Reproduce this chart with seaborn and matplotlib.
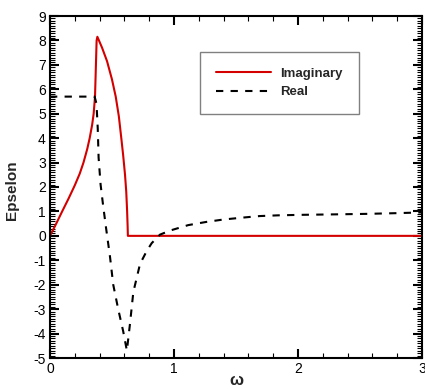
import matplotlib
matplotlib.use("Agg")
import matplotlib.pyplot as plt
from matplotlib.ticker import MultipleLocator
import seaborn as sns
import pandas as pd

# ---- data ----
imag_x = [0.0, 0.05, 0.10, 0.15, 0.20, 0.24, 0.27, 0.30, 0.32, 0.34, 0.352, 0.363,
          0.376, 0.382, 0.42, 0.46, 0.50, 0.53, 0.555, 0.575, 0.59, 0.605, 0.615, 0.622,
          0.626, 0.628, 1.0, 2.0, 3.0]
imag_y = [0.0, 0.5, 1.02, 1.53, 2.07, 2.55, 3.0, 3.55, 4.0, 4.55, 5.0, 5.7,
          8.0, 8.15, 7.7, 7.15, 6.4, 5.7, 4.9, 4.0, 3.3, 2.5, 1.8, 1.0,
          0.4, 0.0, 0.0, 0.0, 0.0]

real_x = [0.0, 0.36, 0.375, 0.385, 0.392, 0.408, 0.427, 0.45, 0.484, 0.51, 0.55, 0.59,
          0.62, 0.645, 0.672, 0.726, 0.78, 0.82, 0.887, 0.97, 1.115, 1.26, 1.40, 1.56,
          1.69, 1.84, 2.02, 2.3, 2.55, 2.8, 3.0]
real_y = [5.7, 5.7, 5.4, 4.4, 3.2, 2.1, 1.3, 0.4, -0.86, -2.0, -3.0, -3.9,
          -4.7, -3.6, -2.3, -1.15, -0.62, -0.3, 0.05, 0.22, 0.44, 0.57, 0.67, 0.75,
          0.81, 0.84, 0.86, 0.88, 0.90, 0.93, 0.96]

series_names = ["Imaginary", "Real"]
x_ticks = [0, 1, 2, 3]
y_ticks = list(range(-5, 10))

sns.set_style("ticks")
plt.rcParams["font.family"] = ["Liberation Sans", "DejaVu Sans"]
plt.rcParams["axes.unicode_minus"] = False

fig = plt.figure(figsize=(4.25, 3.89), dpi=100)
ax = fig.add_axes([50 / 425, 1 - 358 / 389, 372 / 425, 342 / 389])

df_i = pd.DataFrame({"x": imag_x, "y": imag_y})
df_r = pd.DataFrame({"x": real_x, "y": real_y})

sns.lineplot(data=df_i, x="x", y="y", ax=ax, color="#d40000", lw=1.5,
             sort=False, estimator=None, label=series_names[0])
sns.lineplot(data=df_r, x="x", y="y", ax=ax, color="black", lw=1.5,
             sort=False, estimator=None, label=series_names[1])
ax.lines[1].set_dashes((3.5, 3.5))

ax.set_xlim(0, 3)
ax.set_ylim(-5, 9)
ax.set_xticks(x_ticks)
ax.set_yticks(y_ticks)
ax.xaxis.set_minor_locator(MultipleLocator(0.2))
ax.yaxis.set_minor_locator(MultipleLocator(0.1))
ax.tick_params(which="both", direction="in", top=True, right=True,
               labelsize=10, colors="black", pad=3)
ax.tick_params(which="major", length=6.5, width=1.5)
ax.tick_params(which="minor", length=3.5, width=0.8)
for s in ax.spines.values():
    s.set_linewidth(1.5)
    s.set_color("black")

ax.set_xlabel("")
ax.set_ylabel("Epselon", fontsize=11, fontweight="bold")
ax.yaxis.set_label_coords(-0.083, 0.49)
fig.text(236 / 425, 4 / 389, "\u03c9", fontsize=12, fontweight="bold",
         ha="center", va="baseline")

leg = ax.legend(loc="upper left", bbox_to_anchor=(0.403, 0.895),
                frameon=True, fancybox=False, framealpha=1,
                edgecolor="#808080", handlelength=4.2, handletextpad=0.7,
                borderpad=1.2, labelspacing=0.45, borderaxespad=0,
                prop={"weight": "bold", "size": 9.5})
leg.get_frame().set_linewidth(1.0)
leg.legend_handles[1].set_dashes((3.5, 3.5))

fig.savefig("out.png", dpi=100)
